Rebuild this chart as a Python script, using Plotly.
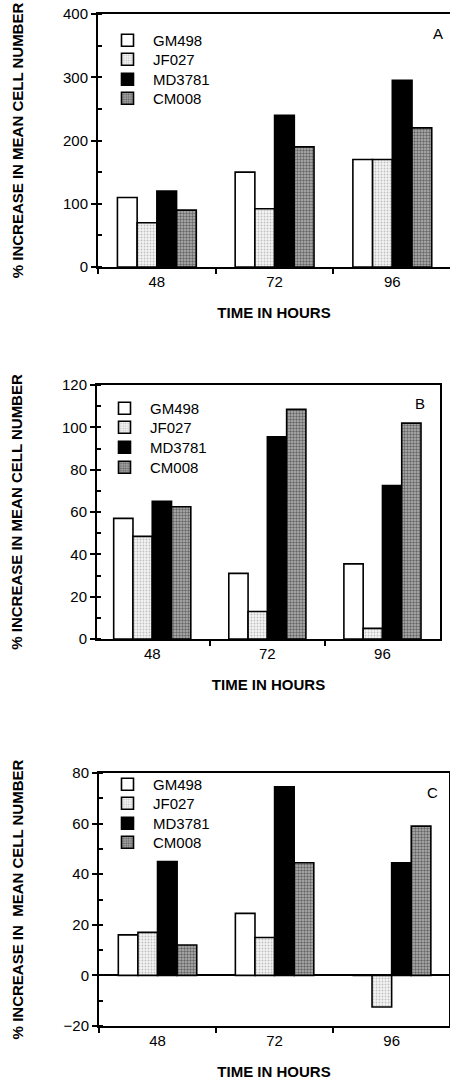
import plotly.graph_objects as go

# ---------------- data ----------------
hours = ["48", "72", "96"]
series = ["GM498", "JF027", "MD3781", "CM008"]

a_gm498 = [110, 150, 170]
a_jf027 = [70, 92, 170]
a_md3781 = [120, 240, 295]
a_cm008 = [90, 190, 220]

b_gm498 = [57, 31, 35.5]
b_jf027 = [48.5, 13, 5]
b_md3781 = [65, 95.5, 72.5]
b_cm008 = [62.5, 108.5, 102]

c_gm498 = [16, 24.5, 0]
c_jf027 = [17, 15, -12.5]
c_md3781 = [45, 74.5, 44.5]
c_cm008 = [12, 44.5, 59]

panel_letters = ["A", "B", "C"]
y_title = "% INCREASE IN MEAN CELL NUMBER"
y_title_c = "% INCREASE IN  MEAN CELL NUMBER"
x_title = "TIME IN HOURS"

panel_data = [
    [a_gm498, a_jf027, a_md3781, a_cm008],
    [b_gm498, b_jf027, b_md3781, b_cm008],
    [c_gm498, c_jf027, c_md3781, c_cm008],
]

# ---------------- styles ----------------
FONT = "Liberation Sans, Arial, Helvetica, sans-serif"
W, H = 450, 1080

styles = [
    dict(color="white", pattern=dict(shape="")),
    dict(color="white", pattern=dict(shape=".", fgcolor="#8a8a8a", bgcolor="#f4f4f4", size=3, solidity=0.3)),
    dict(color="black", pattern=dict(shape="")),
    dict(color="#8a8a8a", pattern=dict(shape=".", fgcolor="#1a1a1a", bgcolor="#b4b4b4", size=3, solidity=0.5)),
]

# plot-area pixel boxes: (left, right, top, bottom)
boxes = [(98, 450, 14, 267), (97, 440, 385, 639), (99, 449, 773, 1026)]
x_ranges = [[-0.5, 2.49], [-0.48, 2.5], [-0.5, 2.49]]
y_ranges = [[0, 400], [0, 120], [-20, 80]]
y_dticks = [100, 20, 20]
y_minor = [50, 10, 10]
y_mirror = [False, True, True]
legend_x = [102, 99, 102]
legend_rows = [[41, 60, 80, 99], [409, 428, 448, 468], [785, 804, 824, 843]]
letter_pos = [(438, 33), (420, 403), (432, 792)]

fig = go.Figure()
for p in range(3):
    ax = "" if p == 0 else str(p + 1)
    for s, name in enumerate(series):
        st = styles[s]
        k = p * 4 + s + 1
        fig.add_trace(go.Bar(
            x=hours, y=panel_data[p][s], name=name,
            xaxis="x" + ax, yaxis="y" + ax,
            legend="legend" if k == 1 else "legend" + str(k),
            marker=dict(color=st["color"], line=dict(color="black", width=1.6),
                        pattern=st["pattern"]),
        ))

layout = dict(
    width=W, height=H, margin=dict(l=0, r=0, t=0, b=0),
    paper_bgcolor="white", plot_bgcolor="white",
    barmode="group", bargap=0.33, bargroupgap=0,
    font=dict(family=FONT, size=15, color="black"),
    showlegend=True,
)

annotations = []
for p in range(3):
    ax = "" if p == 0 else str(p + 1)
    l, r, t, b = boxes[p]
    layout["xaxis" + ax] = dict(
        domain=[l / W, r / W], anchor="y" + ax, type="category",
        range=x_ranges[p], tickson="boundaries", ticks="outside", ticklen=5,
        tickwidth=1.5, tickcolor="black", showline=True, linewidth=2,
        linecolor="black", mirror=True, showgrid=False, zeroline=False,
        tickfont=dict(size=15),
        title=dict(text=x_title, font=dict(size=15, weight="bold"), standoff=18),
        automargin=False,
    )
    layout["yaxis" + ax] = dict(
        domain=[1 - b / H, 1 - t / H], anchor="x" + ax,
        range=y_ranges[p], dtick=y_dticks[p], tick0=0,
        ticks="outside", ticklen=5, tickwidth=1.5, tickcolor="black",
        minor=dict(dtick=y_minor[p], ticks="inside", ticklen=4, tickwidth=1.5, tickcolor="black"),
        showline=True, linewidth=2, linecolor="black", mirror=y_mirror[p],
        showgrid=False, zeroline=(p == 2), zerolinewidth=2, zerolinecolor="black",
        tickfont=dict(size=15),
        title=dict(text=y_title_c if p == 2 else y_title,
                   font=dict(size=15, weight="bold"), standoff=36),
        automargin=False,
    )
    for s in range(4):
        k = p * 4 + s + 1
        key = "legend" if k == 1 else "legend" + str(k)
        layout[key] = dict(
            x=legend_x[p] / W, y=1 - (legend_rows[p][s] - 17) / H,
            xanchor="left", yanchor="top",
            bgcolor="rgba(0,0,0,0)", borderwidth=0, itemwidth=41,
            font=dict(size=15),
        )
    px, py = letter_pos[p]
    annotations.append(dict(
        text=panel_letters[p], x=px / W, y=1 - py / H, xref="paper", yref="paper",
        showarrow=False, xanchor="center", yanchor="middle", font=dict(size=15),
    ))

layout["annotations"] = annotations
fig.update_layout(**layout)
fig.write_html(
    "out.html",
    config={"displayModeBar": False},
    post_script="document.body.style.margin='0';document.body.style.overflow='hidden';",
)
